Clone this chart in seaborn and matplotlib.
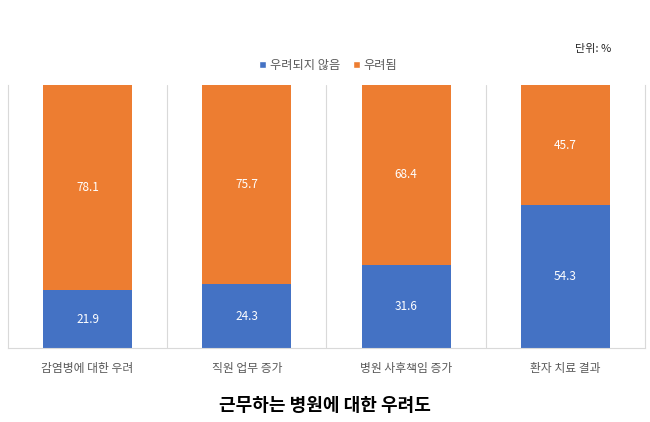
import matplotlib
matplotlib.use('Agg')
import matplotlib.pyplot as plt
from matplotlib.patches import Patch
import pandas as pd
import seaborn as sns

# data
categories = ['감염병에 대한 우려', '직원 업무 증가', '병원 사후책임 증가', '환자 치료 결과']
not_worried = [21.9, 24.3, 31.6, 54.3]
worried = [78.1, 75.7, 68.4, 45.7]
series_names = ['우려되지 않음', '우려됨']

BLUE = '#4472C4'
ORANGE = '#ED7D31'

sns.set_theme(style='white')
plt.rcParams['font.family'] = ['Noto Sans CJK KR', 'DejaVu Sans']

df = pd.DataFrame({'category': categories, 'no': not_worried, 'yes': worried})
df['total'] = df['no'] + df['yes']

fig = plt.figure(figsize=(6.5, 4.22), dpi=100)
ax = fig.add_axes([0.0123, 0.1754, 0.9800, 0.6232])

sns.barplot(data=df, x='category', y='total', color=ORANGE, width=0.56,
            saturation=1, linewidth=0, ax=ax)
sns.barplot(data=df, x='category', y='no', color=BLUE, width=0.56,
            saturation=1, linewidth=0, ax=ax)

# value labels
for i, row in df.iterrows():
    ax.text(i, row['no'] / 2, f"{row['no']:.1f}", ha='center', va='center',
            color='white', fontsize=8.5)
    ax.text(i, row['no'] + row['yes'] / 2, f"{row['yes']:.1f}", ha='center',
            va='center', color='white', fontsize=8.5)

ax.set_xlim(-0.5, len(categories) - 0.5)
ax.set_ylim(0, 100)
ax.set_xlabel('')
ax.set_ylabel('')
ax.set_yticks([])
ax.tick_params(axis='x', length=0, pad=10, labelsize=8.5, labelcolor='#595959')

# category separators
for b in range(1, len(categories)):
    ax.axvline(b - 0.5, color='#D9D9D9', linewidth=0.8, zorder=0)
for side in ['left', 'right', 'bottom']:
    ax.spines[side].set_color('#D9D9D9')
    ax.spines[side].set_linewidth(0.8)
ax.spines['top'].set_visible(False)

handles = [Patch(facecolor=BLUE), Patch(facecolor=ORANGE)]
fig.legend(handles, series_names, loc='center', bbox_to_anchor=(0.505, 0.845),
           ncol=2, frameon=False, fontsize=8.8, handlelength=0.6,
           handleheight=0.6, handletextpad=0.3, columnspacing=1.0,
           labelcolor='#595959')

fig.text(0.885, 0.885, '단위: %', fontsize=8, color='#262626', ha='left', va='center')
fig.text(0.5, 0.04, '근무하는 병원에 대한 우려도', fontsize=13, fontweight='bold',
         ha='center', va='center', color='black')

fig.savefig('out.png', dpi=100)
